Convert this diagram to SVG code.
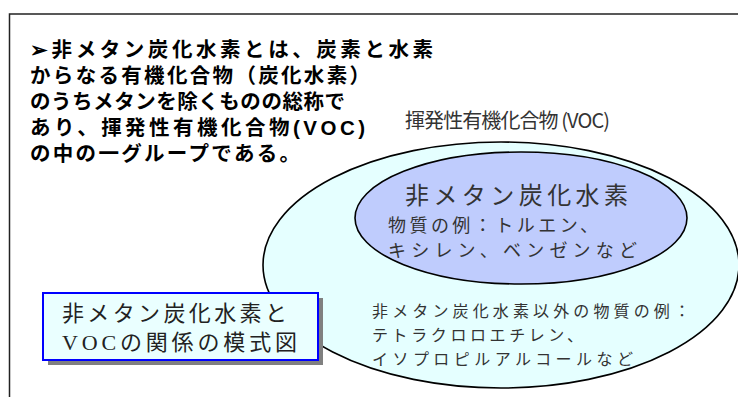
<svg xmlns="http://www.w3.org/2000/svg" width="738" height="397" viewBox="0 0 738 397">
<style>
.main{font-family:"Liberation Sans","Noto Sans CJK JP",sans-serif;font-weight:bold;font-size:20.5px;fill:#000}
.lbl{font-family:"Noto Sans CJK JP","Liberation Sans",sans-serif;font-weight:normal;fill:#333}
.box{font-family:"Liberation Serif","Noto Sans CJK JP",serif;font-size:22px;fill:#222}
</style>
<rect width="738" height="397" fill="#fff"/>
<path d="M9.5 397 V14 H738" fill="none" stroke="#222" stroke-width="1.5"/>
<g id="intro">
<text class="main" x="30" y="57" textLength="403" lengthAdjust="spacing">➢非メタン炭化水素とは、炭素と水素</text>
<text class="main" x="30" y="83" textLength="340" lengthAdjust="spacing">からなる有機化合物（炭化水素）</text>
<text class="main" x="30" y="109" textLength="315" lengthAdjust="spacing">のうちメタンを除くものの総称で</text>
<text class="main" x="30" y="135" textLength="335" lengthAdjust="spacing">あり、揮発性有機化合物(VOC)</text>
<text class="main" x="30" y="161" textLength="270" lengthAdjust="spacing">の中の一グループである。</text>
</g>
<g id="voc">
<ellipse cx="501" cy="265" rx="238" ry="123" fill="#e5ffff" stroke="#000" stroke-width="1.6"/>
<text class="lbl" x="405" y="128" font-size="20" textLength="205" lengthAdjust="spacing">揮発性有機化合物 (VOC)</text>
<text class="lbl" x="372" y="317" font-size="16" textLength="318" lengthAdjust="spacing">非メタン炭化水素以外の物質の例：</text>
<text class="lbl" x="372" y="341" font-size="16" textLength="211" lengthAdjust="spacing">テトラクロロエチレン、</text>
<text class="lbl" x="372" y="365" font-size="16" textLength="261" lengthAdjust="spacing">イソプロピルアルコールなど</text>
</g>
<g id="nmhc">
<ellipse cx="521" cy="218" rx="166" ry="66" fill="#bfccfd" stroke="#000" stroke-width="1.6"/>
<text class="lbl" x="405" y="204" font-size="24" textLength="223" lengthAdjust="spacing">非メタン炭化水素</text>
<text class="lbl" x="388" y="232" font-size="18" textLength="210" lengthAdjust="spacing">物質の例：トルエン、</text>
<text class="lbl" x="388" y="257" font-size="18" textLength="249" lengthAdjust="spacing">キシレン、ベンゼンなど</text>
</g>
<g id="caption">
<rect x="48" y="298" width="275" height="67" fill="#808080"/>
<rect x="43" y="293" width="275" height="67" fill="#eaffff" stroke="#0000ff" stroke-width="2"/>
<text class="box" x="62" y="321" textLength="225" lengthAdjust="spacing">非メタン炭化水素と</text>
<text class="box" x="62" y="350" textLength="235" lengthAdjust="spacing">VOCの関係の模式図</text>
</g>
</svg>
